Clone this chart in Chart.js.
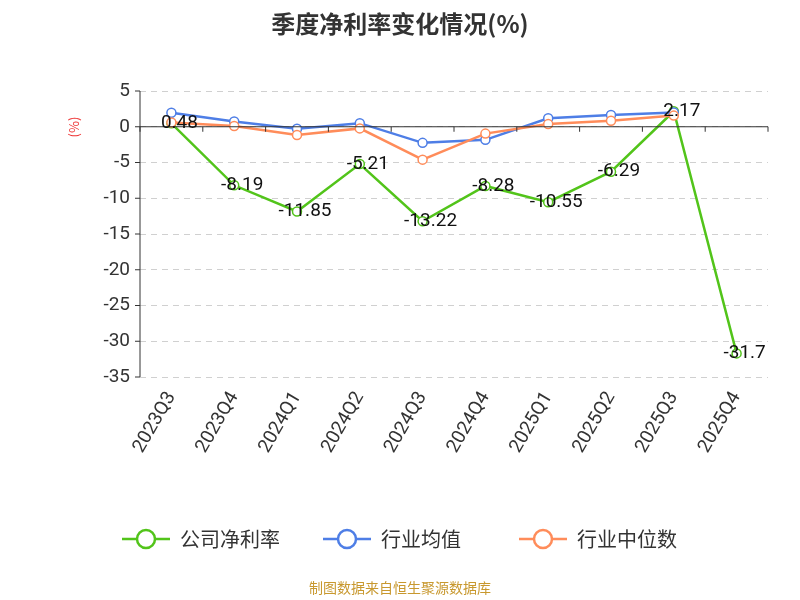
<!DOCTYPE html>
<html><head><meta charset="utf-8">
<script src="https://cdn.jsdelivr.net/npm/chart.js@4/dist/chart.umd.min.js"></script>
<style>body{margin:0;background:#fff}#c{display:block}</style>
</head><body>
<canvas id="c" width="800" height="600"></canvas>
<script>
// categories and values
const quarters = ["2023Q3","2023Q4","2024Q1","2024Q2","2024Q3","2024Q4","2025Q1","2025Q2","2025Q3","2025Q4"];
const companyRate = [0.48, -8.19, -11.85, -5.21, -13.22, -8.28, -10.55, -6.29, 2.17, -31.7];
const industryAvg = [1.97, 0.73, -0.28, 0.5, -2.25, -1.83, 1.19, 1.65, 2.0, null];
const industryMedian = [0.6, 0.1, -1.15, -0.23, -4.6, -0.96, 0.37, 0.83, 1.56, null];
const yTicks = [5, 0, -5, -10, -15, -20, -25, -30, -35];

const seriesNames = ["公司净利率", "行业均值", "行业中位数"];
const seriesColors = ['#52c41a', '#4e7ee6', '#ff8c5a'];
const font = 'Roboto, "Noto Sans CJK SC", sans-serif';
const cjk = '"Noto Sans CJK SC", sans-serif';

// title, axes, value labels, legend, source
const decor = {
  id: 'decor',
  afterDatasetsDraw(chart) {
    const ctx = chart.ctx, a = chart.chartArea;
    const y = chart.scales.y;
    ctx.save();
    const y0 = y.getPixelForValue(0);
    ctx.strokeStyle = '#333'; ctx.lineWidth = 1;
    ctx.beginPath();
    ctx.moveTo(a.left, a.top); ctx.lineTo(a.left, a.bottom);
    for (const v of yTicks) {
      const py = y.getPixelForValue(v);
      ctx.moveTo(a.left - 5, py); ctx.lineTo(a.left, py);
    }
    ctx.moveTo(a.left, y0); ctx.lineTo(a.right, y0);
    for (let i = 0; i <= quarters.length; i++) {
      const px = a.left + (a.right - a.left) * i / quarters.length;
      ctx.moveTo(px, y0); ctx.lineTo(px, y0 + 5);
    }
    ctx.stroke();
    // value labels for company series
    ctx.fillStyle = '#111'; ctx.font = '19px ' + font;
    ctx.textAlign = 'center'; ctx.textBaseline = 'middle';
    chart.getDatasetMeta(0).data.forEach((p, i) => {
      ctx.fillText(String(companyRate[i]), p.x + 8, p.y);
    });
    // title
    ctx.font = 'bold 24px ' + cjk; ctx.fillStyle = '#333';
    ctx.fillText('季度净利率变化情况(%)', 400, 24);
    // unit
    ctx.save(); ctx.translate(74, 127); ctx.rotate(-Math.PI / 2);
    ctx.fillStyle = '#e33'; ctx.font = '13px ' + cjk;
    ctx.fillText('(%)', 0, 0); ctx.restore();
    // legend
    const lx = [122, 323, 519];
    ctx.font = '20px ' + cjk; ctx.textAlign = 'left';
    seriesNames.forEach((n, i) => {
      ctx.strokeStyle = seriesColors[i]; ctx.lineWidth = 2.5;
      ctx.beginPath(); ctx.moveTo(lx[i], 539); ctx.lineTo(lx[i] + 48, 539); ctx.stroke();
      ctx.beginPath(); ctx.arc(lx[i] + 24, 539, 9, 0, Math.PI * 2);
      ctx.fillStyle = '#fff'; ctx.fill(); ctx.stroke();
      ctx.fillStyle = '#333'; ctx.fillText(n, lx[i] + 58, 539);
    });
    ctx.font = '14px ' + cjk; ctx.fillStyle = '#c8982e'; ctx.textAlign = 'center';
    ctx.fillText('制图数据来自恒生聚源数据库', 400, 588);
    ctx.restore();
  }
};

const mk = (i, data) => ({
  label: seriesNames[i], data,
  borderColor: seriesColors[i], backgroundColor: '#fff',
  borderWidth: 2.5, pointRadius: 4.5, pointBorderWidth: 1.5,
  pointBackgroundColor: '#fff', pointBorderColor: seriesColors[i],
  tension: 0, order: 3 - i
});

new Chart(document.getElementById('c'), {
  type: 'line',
  data: { labels: quarters, datasets: [mk(0, companyRate), mk(1, industryAvg), mk(2, industryMedian)] },
  plugins: [decor],
  options: {
    responsive: false, animation: false,
    layout: { padding: { left: 0, right: 32, top: 91, bottom: 0 } },
    plugins: { legend: { display: false }, tooltip: { enabled: false } },
    scales: {
      x: {
        offset: true,
        grid: { display: false },
        border: { display: false },
        ticks: { color: '#333', font: { size: 19, family: font }, minRotation: 60, maxRotation: 60 },
        afterFit(s) { s.height = 223; }
      },
      y: {
        min: -35, max: 5,
        afterBuildTicks(s) { s.ticks = yTicks.map(v => ({ value: v })); },
        grid: { color: '#d0d0d0', drawTicks: false, tickLength: 0 },
        border: { display: false, dash: [6, 5] },
        ticks: { color: '#333', font: { size: 19, family: font }, padding: 10 },
        afterFit(s) { s.width = 140; }
      }
    }
  }
});
</script>
</body></html>
